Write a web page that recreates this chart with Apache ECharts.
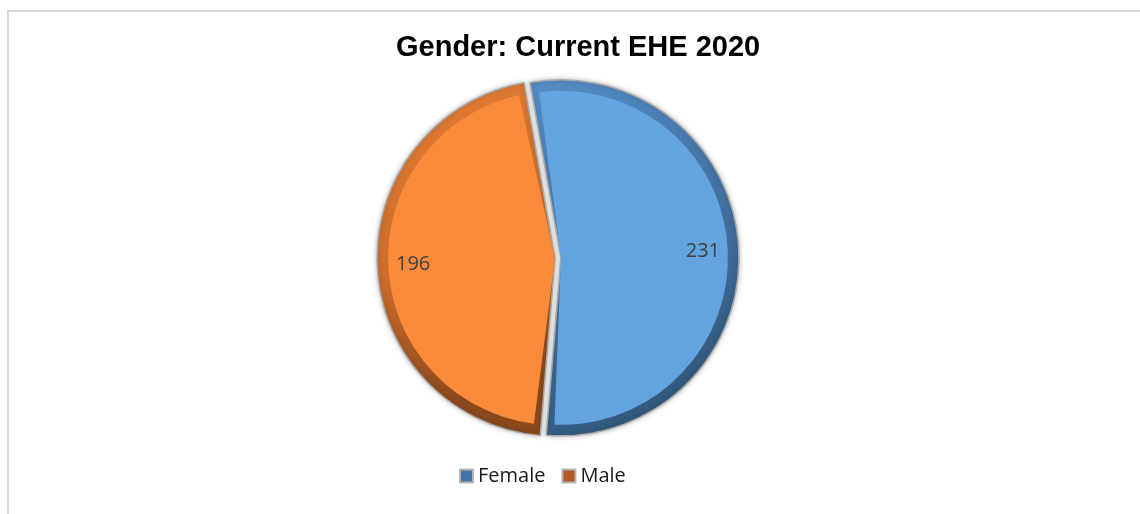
<!DOCTYPE html>
<html>
<head>
<meta charset="utf-8">
<title>Gender: Current EHE 2020</title>
<script src="https://cdn.jsdelivr.net/npm/echarts@6/dist/echarts.min.js"></script>
<style>
  html, body { margin: 0; padding: 0; background: #ffffff; }
  #chart { width: 1140px; height: 514px; }
</style>
</head>
<body>
<div id="chart"></div>
<script>
// Head count by gender
const categories = ['Female', 'Male'];
const counts = [231, 196];

// Slice colours: face, bevelled rim, legend swatch
const faceColors = ['#63a3df', '#f98b3b'];
const rimColors = [
  [['#548dc7', 0], ['#3f6e9c', 0.55], ['#2b4b6b', 1]],
  [['#e47e36', 0], ['#c96b2a', 0.5], ['#8a481d', 0.85]]
];
const swatchColors = ['#3f74aa', '#b35a22'];

const chart = echarts.init(document.getElementById('chart'), null, { renderer: 'canvas' });

const CENTER = [558, 258];
const R = 178;
const RIM = 11;
const START = 100;
const OFFSET = 3;

function grad(stops, x2, y2) {
  return new echarts.graphic.LinearGradient(0, 0, x2, y2,
    stops.map(s => ({ offset: s[1], color: s[0] })));
}

const rimData = categories.map((name, i) => ({
  name, value: counts[i], selected: true,
  itemStyle: { color: grad(rimColors[i], i === 0 ? 1 : 0.8, 1) }
}));
const faceData = categories.map((name, i) => ({
  name, value: counts[i], selected: true,
  itemStyle: { color: faceColors[i] }
}));
const labelData = categories.map((name, i) => ({
  name, value: counts[i], selected: true
}));

const common = {
  type: 'pie',
  center: CENTER,
  startAngle: START,
  clockwise: true,
  selectedMode: 'multiple',
  selectedOffset: OFFSET,
  silent: true,
  animation: false,
  label: { show: false },
  labelLine: { show: false },
  emphasis: { disabled: true }
};

chart.setOption({
  backgroundColor: '#ffffff',
  title: {
    text: 'Gender: Current EHE 2020',
    left: 396,
    top: 33,
    padding: 0,
    textStyle: {
      fontFamily: 'Liberation Sans, Arial, sans-serif',
      fontWeight: 'bold',
      fontSize: 29,
      color: '#000000'
    }
  },
  legend: {
    left: 459,
    top: 466,
    padding: 0,
    icon: 'rect',
    itemWidth: 13,
    itemHeight: 13,
    itemGap: 16,
    selectedMode: false,
    textStyle: {
      fontFamily: 'Open Sans, sans-serif',
      fontSize: 20,
      color: '#1a1a1a'
    },
    data: categories.map((name, i) => ({
      name,
      itemStyle: { color: swatchColors[i], borderColor: '#b4b4b4', borderWidth: 2 }
    }))
  },
  graphic: [{
    type: 'rect',
    silent: true,
    shape: { x: 8, y: 11, width: 1200, height: 600 },
    style: { fill: 'none', stroke: '#d9d9d9', lineWidth: 2 }
  }],
  series: [
    Object.assign({}, common, {
      name: 'rim',
      radius: [0, R],
      itemStyle: {
        borderColor: '#a8a8a8',
        borderWidth: 1.5,
        shadowBlur: 5,
        shadowColor: 'rgba(0,0,0,0.25)'
      },
      data: rimData
    }),
    Object.assign({}, common, {
      name: 'face',
      radius: [0, R - RIM],
      padAngle: 5,
      data: faceData
    }),
    Object.assign({}, common, {
      name: 'values',
      radius: [100, R],
      itemStyle: { color: 'rgba(0,0,0,0)' },
      label: {
        show: true,
        position: 'inside',
        formatter: '{c}',
        fontFamily: 'Open Sans, sans-serif',
        fontSize: 20,
        color: '#404040'
      },
      data: labelData
    })
  ]
});
</script>
</body>
</html>
